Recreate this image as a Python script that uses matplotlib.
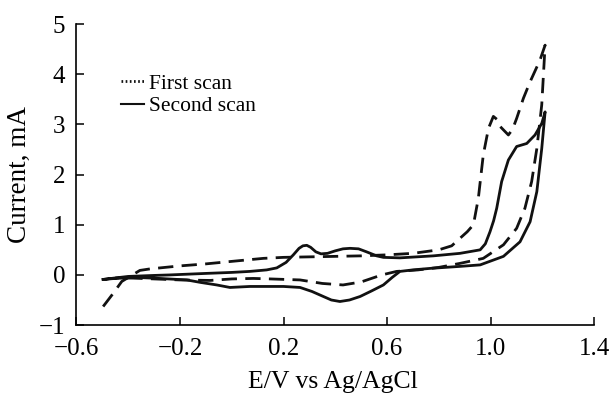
import matplotlib
matplotlib.use("Agg")
import matplotlib.pyplot as plt
from matplotlib.lines import Line2D

# First scan (dashed): forward sweep then reverse sweep
first_x = [-0.497, -0.46, -0.425, -0.39, -0.355, -0.316, -0.20, -0.10, 0.00, 0.122, 0.20, 0.30,
           0.40, 0.50, 0.60, 0.70, 0.80, 0.85, 0.882, 0.91, 0.934, 0.953, 0.972, 0.992,
           1.011, 1.025, 1.037, 1.069, 1.085, 1.101, 1.127, 1.153, 1.191, 1.211,
           1.198, 1.179, 1.159, 1.133, 1.101, 1.05, 0.972, 0.882, 0.80, 0.72,
           0.637, 0.58, 0.50, 0.43, 0.35, 0.264, 0.15, 0.083, 0.00, -0.084, -0.20,
           -0.30, -0.40, -0.45]
first_y = [-0.63, -0.38, -0.13, -0.02, 0.09, 0.12, 0.18, 0.22, 0.27, 0.33, 0.35, 0.36,
           0.37, 0.38, 0.40, 0.43, 0.50, 0.58, 0.73, 0.86, 1.00, 1.53, 2.39, 2.92,
           3.16, 3.10, 2.96, 2.79, 2.90, 3.12, 3.52, 3.85, 4.28, 4.58,
           3.39, 2.52, 1.86, 1.33, 0.93, 0.60, 0.33, 0.23, 0.15, 0.10,
           0.07, 0.00, -0.14, -0.20, -0.17, -0.10, -0.08, -0.07, -0.08, -0.11, -0.10,
           -0.08, -0.06, -0.06]

# Second scan (solid)
second_x = [-0.497, -0.45, -0.40, -0.30, -0.239, -0.10, 0.00, 0.07, 0.135, 0.174, 0.21,
            0.238, 0.26, 0.275, 0.29, 0.305, 0.325, 0.345, 0.37, 0.40, 0.43, 0.457, 0.49,
            0.521, 0.56, 0.586, 0.65, 0.715, 0.779, 0.882, 0.96, 0.98, 0.998, 1.012,
            1.024, 1.043, 1.069, 1.101, 1.14, 1.172, 1.198, 1.211,
            1.198, 1.179, 1.153, 1.114, 1.05, 0.96, 0.882,
            0.766, 0.70, 0.65, 0.62, 0.586, 0.54, 0.496, 0.455, 0.418, 0.385, 0.354,
            0.31, 0.264, 0.20, 0.07, -0.007, -0.058, -0.12, -0.174, -0.28, -0.367,
            -0.45, -0.497]
second_y = [-0.09, -0.06, -0.03, -0.01, 0.00, 0.03, 0.05, 0.07, 0.10, 0.14, 0.25,
            0.40, 0.53, 0.58, 0.59, 0.55, 0.46, 0.42, 0.43, 0.48, 0.52, 0.53, 0.52,
            0.46, 0.38, 0.35, 0.34, 0.36, 0.38, 0.43, 0.50, 0.62, 0.86, 1.08,
            1.33, 1.86, 2.29, 2.56, 2.62, 2.79, 3.02, 3.25,
            2.52, 1.66, 1.06, 0.66, 0.37, 0.20, 0.17,
            0.13, 0.10, 0.07, -0.05, -0.20, -0.32, -0.43, -0.50, -0.53, -0.50, -0.43,
            -0.33, -0.25, -0.23, -0.23, -0.25, -0.20, -0.15, -0.10, -0.07, -0.05,
            -0.07, -0.09]

x_ticks = [-0.6, -0.2, 0.2, 0.6, 1.0, 1.4]
x_ticklabels = ["\u22120.6", "\u22120.2", "0.2", "0.6", "1.0", "1.4"]
y_ticks = [-1, 0, 1, 2, 3, 4, 5]
y_ticklabels = ["\u22121", "0", "1", "2", "3", "4", "5"]

plt.rcParams['font.family'] = ['Liberation Serif', 'DejaVu Serif']

fig = plt.figure(figsize=(6.11, 3.95), dpi=100)
ax = fig.add_axes([0.1252, 0.177, 0.847, 0.762])

ax.plot(first_x, first_y, color='#111111', lw=2.0, dashes=(5.5, 3.0),
        dash_capstyle='butt', dash_joinstyle='round')
ax.plot(second_x, second_y, color='#111111', lw=2.0, solid_joinstyle='round')

ax.set_xlim(-0.6, 1.4)
ax.set_ylim(-1, 5)
ax.set_xticks(x_ticks)
ax.set_xticklabels(x_ticklabels)
ax.set_yticks(y_ticks)
ax.set_yticklabels(y_ticklabels)

for s in ['top', 'right']:
    ax.spines[s].set_visible(False)
for s in ['left', 'bottom']:
    ax.spines[s].set_linewidth(1.2)

ax.tick_params(direction='in', length=6, width=1.1, labelsize=18)
ax.tick_params(axis='y', pad=8)
ax.tick_params(axis='x', pad=9)

ax.set_xlabel("E/V vs Ag/AgCl", fontsize=18.5)
ax.set_ylabel("Current, mA", fontsize=19.5)
ax.xaxis.set_label_coords(0.495, -0.152)
ax.yaxis.set_label_coords(-0.086, 0.5)

handles = [Line2D([], [], color='#111111', lw=2.0, linestyle=(0, (0.6, 0.9))),
           Line2D([], [], color='#111111', lw=1.5, linestyle='-')]
ax.legend(handles, ["First scan", "Second scan"], loc='upper left',
          bbox_to_anchor=(0.069, 0.864), frameon=False, fontsize=15.5,
          handlelength=1.1, handletextpad=0.2, labelspacing=0.12, borderaxespad=0)

fig.savefig("out.png", dpi=100)
